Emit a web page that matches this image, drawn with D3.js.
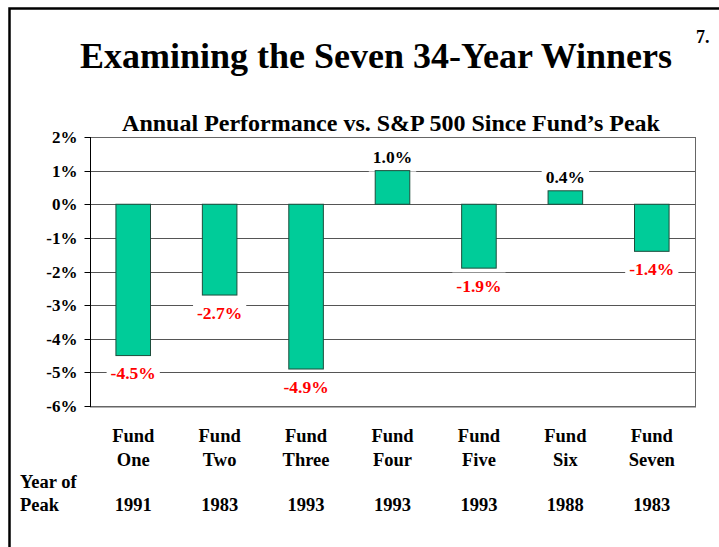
<!DOCTYPE html>
<html>
<head>
<meta charset="utf-8">
<script src="https://cdn.jsdelivr.net/npm/d3@7"></script>
<style>
  body { margin: 0; background: #fff; }
  text { font-family: "Liberation Serif", "Times New Roman", serif; font-weight: bold; }
</style>
</head>
<body>
<svg id="chart" width="719" height="547"></svg>
<script>
// chart data
const funds = ["Fund One", "Fund Two", "Fund Three", "Fund Four", "Fund Five", "Fund Six", "Fund Seven"];
const perf = [-4.5, -2.7, -4.9, 1.0, -1.9, 0.4, -1.4];
const peakYears = ["1991", "1983", "1993", "1993", "1993", "1988", "1983"];
const yTicks = [2, 1, 0, -1, -2, -3, -4, -5, -6];

const svg = d3.select("#chart");

// page frame (left and top edges)
svg.append("path")
  .attr("d", "M9.5,547 L9.5,8.5 L719,8.5")
  .attr("fill", "none").attr("stroke", "#000").attr("stroke-width", 2.5);

svg.append("text").attr("x", 376).attr("y", 68).attr("text-anchor", "middle")
  .style("font-size", "36px").text("Examining the Seven 34-Year Winners");
svg.append("text").attr("x", 696).attr("y", 43)
  .style("font-size", "18px").text("7.");
svg.append("text").attr("x", 391).attr("y", 131).attr("text-anchor", "middle")
  .style("font-size", "24px").text("Annual Performance vs. S&P 500 Since Fund\u2019s Peak");

const plotL = 90, plotR = 695, plotT = 137, plotB = 406;

let x = d3.scaleBand().domain(funds).range([plotL, plotR]).paddingInner(0.6).paddingOuter(0.3);
let y = d3.scaleLinear().domain([-6, 2]).range([plotB, plotT]);

// gridlines
svg.append("g").selectAll("line").data(yTicks).enter().append("line")
  .attr("x1", plotL).attr("x2", plotR)
  .attr("y1", d => Math.round(y(d)) + 0.5).attr("y2", d => Math.round(y(d)) + 0.5)
  .attr("stroke", "#555").attr("stroke-width", 1);

// plot frame
svg.append("rect").attr("x", plotL + 0.5).attr("y", plotT + 0.5)
  .attr("width", plotR - plotL).attr("height", plotB - plotT)
  .attr("fill", "none").attr("stroke", "#666");
svg.append("line").attr("x1", plotL).attr("x2", plotR + 1)
  .attr("y1", plotB + 1).attr("y2", plotB + 1).attr("stroke", "#666");
svg.append("line").attr("x1", plotL + 0.5).attr("x2", plotL + 0.5)
  .attr("y1", plotT).attr("y2", plotB + 1).attr("stroke", "#000");

// y axis
let yAxis = svg.append("g").attr("transform", "translate(" + (plotL + 0.5) + ",0)")
  .call(d3.axisLeft(y).tickValues(yTicks).tickSize(6).tickSizeOuter(0).tickFormat(d => d + "%"));
yAxis.select(".domain").remove();
yAxis.selectAll(".tick").attr("transform", d => "translate(0," + (Math.round(y(d)) + 0.5) + ")");
yAxis.selectAll("text").style("font-size", "17px").attr("fill", "#000").attr("x", -13).attr("dy", "0.35em");
yAxis.selectAll(".tick line").attr("stroke", "#000");

// value label positions (baseline)
const labelY = d => d >= 0 ? y(d) - 8 : y(d) + 23.5;
const labelX = i => x(funds[i]) + x.bandwidth() / 2;

// white boxes behind labels
let boxes = svg.append("g");

// bars
svg.append("g").selectAll("rect").data(perf).enter().append("rect")
  .attr("x", (d, i) => x(funds[i]))
  .attr("y", d => y(Math.max(0, d)))
  .attr("width", x.bandwidth())
  .attr("height", d => Math.abs(y(d) - y(0)))
  .attr("fill", "#00cc99").attr("stroke", "#1d4d3c").attr("stroke-width", 1);

let labels = svg.append("g").selectAll("text").data(perf).enter().append("text")
  .attr("text-anchor", "middle")
  .attr("x", (d, i) => labelX(i)).attr("y", d => labelY(d))
  .style("font-size", "17.5px")
  .attr("fill", d => d >= 0 ? "#000" : "#ff0000")
  .text(d => d.toFixed(1) + "%");

labels.each(function(d, i) {
  let w = this.getComputedTextLength() + 8;
  boxes.append("rect")
    .attr("x", labelX(i) - w / 2).attr("y", labelY(d) - 19)
    .attr("width", w).attr("height", 28)
    .attr("fill", "#fff");
});

// category labels
let cats = svg.append("g").selectAll("text").data(funds).enter().append("text")
  .attr("text-anchor", "middle").style("font-size", "18.5px")
  .attr("x", d => x(d) + x.bandwidth() / 2).attr("y", 442);
cats.append("tspan").text(d => d.split(" ")[0]);
cats.append("tspan").attr("x", d => x(d) + x.bandwidth() / 2).attr("dy", 23.5).text(d => d.split(" ")[1]);

svg.append("text").attr("x", 20).attr("y", 488).style("font-size", "18.5px").text("Year of");
svg.append("text").attr("x", 20).attr("y", 510.5).style("font-size", "18.5px").text("Peak");

svg.append("g").selectAll("text").data(peakYears).enter().append("text")
  .attr("text-anchor", "middle").style("font-size", "18.5px")
  .attr("x", (d, i) => x(funds[i]) + x.bandwidth() / 2).attr("y", 510.5)
  .text(d => d);
</script>
</body>
</html>
